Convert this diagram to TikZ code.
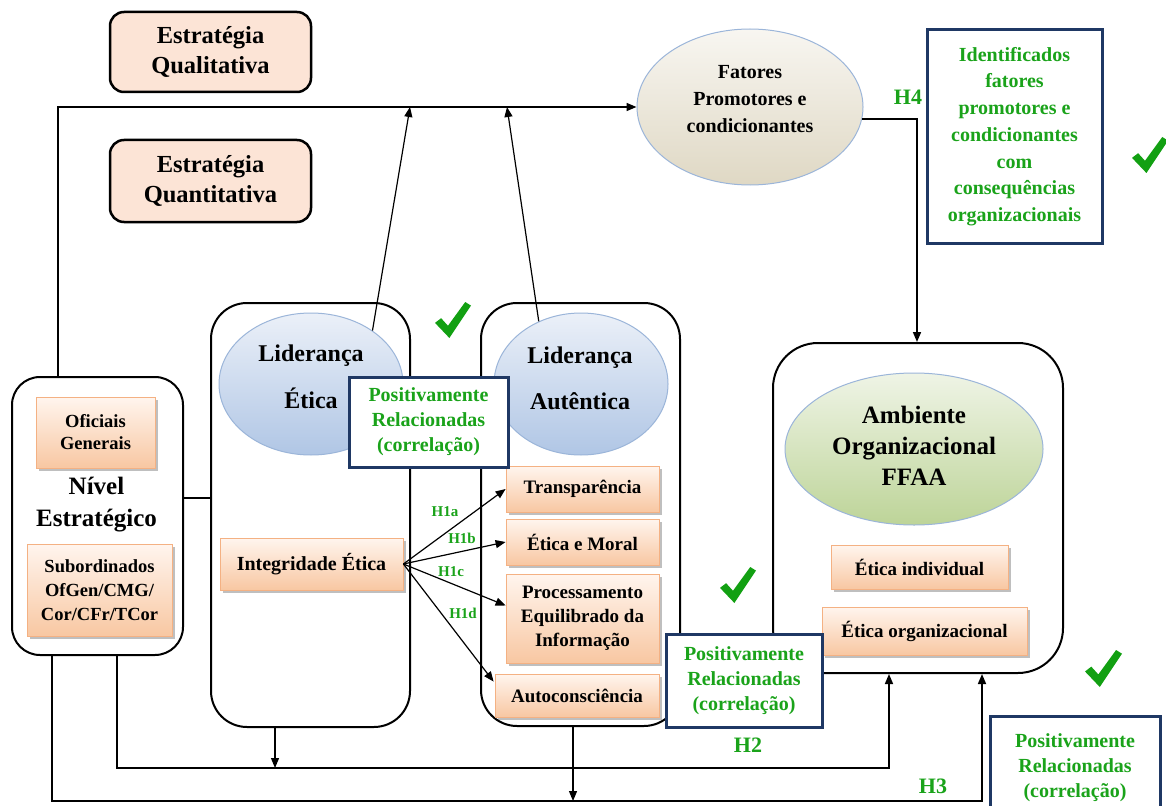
\documentclass[tikz,border=0pt]{standalone}
\usepackage{fontspec}
\setmainfont{Liberation Serif}
\usetikzlibrary{arrows.meta,shapes.geometric,shadows,calc}

\definecolor{peachflat}{HTML}{FCE4D6}
\definecolor{peachtop}{HTML}{FFF5EE}
\definecolor{peachbot}{HTML}{F8C7A2}
\definecolor{peachline}{HTML}{F4B183}
\definecolor{navy}{HTML}{1F3864}
\definecolor{okgreen}{HTML}{12A012}
\definecolor{txtgreen}{HTML}{1AA31A}
\definecolor{bluetop}{HTML}{EBF0F8}
\definecolor{bluebot}{HTML}{B0C6E5}
\definecolor{beigetop}{HTML}{F8F6F1}
\definecolor{beigebot}{HTML}{DFD8C4}
\definecolor{greentop}{HTML}{EFF4E6}
\definecolor{greenbot}{HTML}{BDD498}
\definecolor{ellline}{HTML}{9BB5D9}

\newcommand\fsz[2]{\fontsize{#1}{#2}\selectfont\bfseries}

\tikzset{
  stratbox/.style={draw, line width=2.5pt, rounded corners=14pt, fill=peachflat,
    align=center, inner sep=0pt, font=\fsz{24.5}{30}},
  frame/.style={draw, line width=2pt, rounded corners=30pt, inner sep=0pt},
  itembox/.style={draw=peachline, line width=0.8pt, top color=peachtop, bottom color=peachbot,
    drop shadow={shadow xshift=2.5pt, shadow yshift=-2.5pt, fill=black, opacity=0.25},
    align=center, inner sep=0pt, font=\fsz{19}{24}},
  oval/.style={ellipse, draw=ellline, line width=1pt, inner sep=0pt},
  greenbox/.style={draw=navy, line width=3pt, fill=white, text=txtgreen,
    align=center, inner sep=0pt, font=\fsz{20}{25}},
  hyp/.style={text=txtgreen, font=\fsz{22}{24}},
  hsmall/.style={text=txtgreen, font=\fsz{15}{16}},
  conn/.style={line width=1.6pt},
  thinconn/.style={line width=1.2pt},
  arr/.style={-{Triangle[length=10pt,width=8pt]}},
  okmark/.pic={\fill[okgreen] (0,0.58) -- (0.17,0.45) -- (0.36,0.66) -- (0.84,0) -- (1,0.1) -- (0.4,1) -- cycle;}
}

\begin{document}
\begin{tikzpicture}[x=1pt, y=-1pt]
\clip (0,0) rectangle (1166,805);
\fill[white] (0,0) rectangle (1166,805);

% strategy labels
\node[stratbox, minimum width=201pt, minimum height=80pt] (qual) at (210.5,52) {Estratégia\\Qualitativa};
\node[stratbox, minimum width=201pt, minimum height=82pt] (quan) at (210.5,181) {Estratégia\\Quantitativa};

% outer frames
\node[frame, rounded corners=28pt, minimum width=171pt, minimum height=278pt] (niv) at (97.5,516) {};
\node[frame, rounded corners=36pt, minimum width=199pt, minimum height=424pt] (frE) at (310.5,515) {};
\node[frame, rounded corners=36pt, minimum width=199pt, minimum height=423pt] (frA) at (580.5,514.5) {};
\node[frame, rounded corners=45pt, minimum width=290pt, minimum height=330pt] (amb) at (918,508) {};

% ellipses
\node[oval, top color=beigetop, bottom color=beigebot, minimum width=226pt, minimum height=156pt] (fat) at (750,107) {};
\node[font=\fsz{20}{27}, align=center] (fatT) at (750,99) {Fatores\\Promotores e\\condicionantes};

\node[oval, top color=bluetop, bottom color=bluebot, minimum width=184pt, minimum height=142pt] (elE) at (311,384) {};
\node[font=\fsz{24}{47}, align=center] (elET) at (311,377) {Liderança\\Ética};

\node[oval, top color=bluetop, bottom color=bluebot, minimum width=174pt, minimum height=142pt] (elA) at (581,384) {};
\node[font=\fsz{24}{46}, align=center] (elAT) at (580,378) {Liderança\\Autêntica};

\node[oval, top color=greentop, bottom color=greenbot, minimum width=258pt, minimum height=152pt] (elO) at (914,449) {};
\node[font=\fsz{25}{31}, align=center] (elOT) at (914,446) {Ambiente\\Organizacional\\FFAA};

% Nivel estrategico contents
\node[itembox, font=\fsz{18.5}{22}, minimum width=119pt, minimum height=71pt] (ofg) at (95.5,432.5) {Oficiais\\Generais};
\node[font=\fsz{25}{32}, align=center] (nivT) at (96.5,505) {Nível\\Estratégico};
\node[itembox, font=\fsz{18.5}{24}, minimum width=145pt, minimum height=92pt] (sub) at (99.5,590) {Subordinados\\OfGen/CMG/\\Cor/CFr/TCor};

% dimension boxes
\node[itembox, font=\fsz{20}{24}, minimum width=183pt, minimum height=52pt] (integ) at (311.5,564) {Integridade Ética};
\node[itembox, minimum width=153pt, minimum height=46pt] (transp) at (582.5,489) {Transparência};
\node[itembox, minimum width=153pt, minimum height=46pt] (moral) at (582.5,542) {Ética e Moral};
\node[itembox, minimum width=153pt, minimum height=89pt] (proc) at (582.5,618.5) {Processamento\\Equilibrado da\\Informação};
\node[itembox, minimum width=164pt, minimum height=43pt] (autoc) at (577,695.5) {Autoconsciência};
\node[itembox, minimum width=177pt, minimum height=44pt] (eind) at (919.5,567) {Ética individual};
\node[itembox, minimum width=205pt, minimum height=48pt] (eorg) at (924.5,631) {Ética organizacional};

% helper coordinates for orthogonal routes
\coordinate (x52) at (52,0);
\coordinate (x58) at (58,0);
\coordinate (x117) at (117,0);
\coordinate (x275) at (275,0);
\coordinate (x573) at (573,0);
\coordinate (x889) at (889,0);
\coordinate (x917) at (917,0);
\coordinate (x982) at (982,0);
\coordinate (y498) at (0,498);
\coordinate (y768) at (0,768);
\coordinate (y801) at (0,801);
\coordinate (j1) at (410,107);
\coordinate (j2) at (507,107);

% connectors
\draw[conn, arr] (niv.north -| x58) |- (fat.west);
\draw[thinconn, arr] (elE.41) -- (j1);
\draw[thinconn, arr] (elA.124) -- (j2);
\draw[conn, arr] (fat.-6) -| (amb.north -| x917);
\draw[conn] (niv.east |- y498) -- (frE.west |- y498);
\draw[conn, arr] (niv.south -| x117) -- (x117 |- y768) -| (amb.south -| x889);
\draw[conn, arr] (niv.south -| x52) -- (x52 |- y801) -| (amb.south -| x982);
\draw[thinconn, arr] (frE.south -| x275) -- (x275 |- y768);
\draw[thinconn, arr] (frA.south -| x573) -- (x573 |- y801);

\draw[thinconn, arr] (integ.east) -- (transp.west);
\draw[thinconn, arr] (integ.east) -- (moral.west);
\draw[thinconn, arr] (integ.east) -- ($(proc.west)+(0,-13)$);
\draw[thinconn, arr] (integ.east) -- ($(autoc.north west)+(-1,8)$);

% hypothesis labels
\node[hsmall] (h1a) at (445,512) {H1a};
\node[hsmall] (h1b) at (462,538) {H1b};
\node[hsmall] (h1c) at (451,572) {H1c};
\node[hsmall] (h1d) at (463,613) {H1d};
\node[hyp] (h4) at (908,97) {H4};
\node[hyp] (h2) at (748,745) {H2};
\node[hyp] (h3) at (933,786) {H3};

% result boxes
\node[greenbox, minimum width=159pt, minimum height=90pt] (pos1) at (428.5,422) {Positivamente\\Relacionadas\\(correlação)};
\node[greenbox, minimum width=156pt, minimum height=93pt] (pos2) at (744,680.5) {Positivamente\\Relacionadas\\(correlação)};
\node[greenbox, minimum width=170pt, minimum height=104pt] (pos3) at (1075,768) {Positivamente\\Relacionadas\\(correlação)};
\node[greenbox, font=\fsz{20}{26.7}, minimum width=175pt, minimum height=213pt] (ident) at (1014.5,136.5)
  {Identificados\\fatores\\promotores e\\condicionantes\\com\\consequências\\organizacionais};

% check marks
\pic[scale=36] at (435,302) {okmark};
\pic[scale=36] at (720,567) {okmark};
\pic[scale=37] at (1085,650) {okmark};
\pic[scale=36] at (1132,137) {okmark};
\end{tikzpicture}
\end{document}
